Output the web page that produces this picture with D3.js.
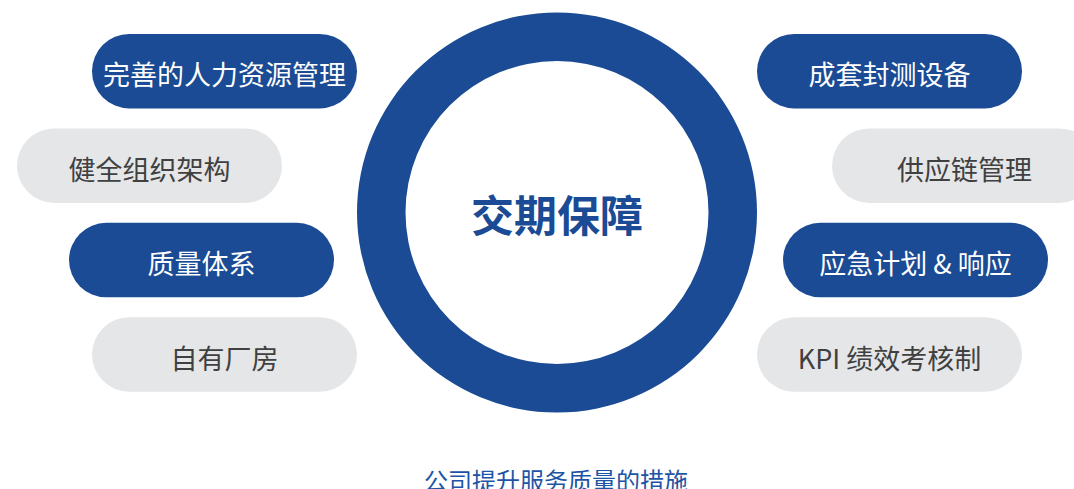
<!DOCTYPE html>
<html>
<head>
<meta charset="utf-8">
<script src="https://cdn.jsdelivr.net/npm/d3@7/dist/d3.min.js"></script>
<style>
  html, body { margin: 0; padding: 0; background: #ffffff; overflow: hidden; }
  svg { display: block; }
  text { font-family: "Noto Sans CJK SC", "Noto Sans", sans-serif; }
</style>
</head>
<body>
<svg id="chart" width="1074" height="489"></svg>
<script>
// ---- data ----
const centerTitle = "交期保障";
const caption = "公司提升服务质量的措施";
const leftItems = ["完善的人力资源管理", "健全组织架构", "质量体系", "自有厂房"];
const rightItems = ["成套封测设备", "供应链管理", "应急计划 & 响应", "KPI 绩效考核制"];
const leftKinds = ["primary", "secondary", "primary", "secondary"];
const rightKinds = ["primary", "secondary", "primary", "secondary"];

// ---- layout ----
const W = 1074, H = 489;
const cx = 557, cy = 212.5;
const outerR = 200, innerR = 151.5;
const pillW = 265, pillH = 74.5;
const gapLeft = [200, 275, 223, 200];   // distance from centre to pill inner edge
const gapRight = [200, 275, 226, 200];

const blue = "#1a4b94";
const grey = "#e5e6e8";
const greyText = "#404040";

const svg = d3.select("#chart");

const rowY = d3.scalePoint().domain(d3.range(leftItems.length)).range([71.2, 354.5]);

// ring
const arc = d3.arc().innerRadius(innerR).outerRadius(outerR).startAngle(0).endAngle(2 * Math.PI);
svg.append("path")
  .attr("d", arc())
  .attr("transform", `translate(${cx},${cy})`)
  .attr("fill", blue);

svg.append("text")
  .attr("x", cx)
  .attr("y", cy)
  .attr("text-anchor", "middle")
  .attr("dominant-baseline", "central")
  .attr("font-size", 43)
  .attr("font-weight", 700)
  .attr("fill", blue)
  .text(centerTitle);

function drawSide(items, kinds, gaps, side) {
  const g = svg.append("g");
  const nodes = g.selectAll("g.pill")
    .data(items.map((d, i) => ({ label: d, kind: kinds[i], gap: gaps[i], i })))
    .join("g")
    .attr("class", "pill")
    .attr("transform", d => {
      const x = side === "left" ? cx - d.gap - pillW : cx + d.gap;
      return `translate(${x},${rowY(d.i) - pillH / 2})`;
    });
  nodes.append("rect")
    .attr("width", pillW)
    .attr("height", pillH)
    .attr("rx", pillH / 2)
    .attr("ry", pillH / 2)
    .attr("fill", d => d.kind === "primary" ? blue : grey);
  nodes.append("text")
    .attr("x", pillW / 2)
    .attr("y", pillH / 2 + 2.5)
    .attr("text-anchor", "middle")
    .attr("dominant-baseline", "central")
    .attr("font-size", 27)
    .attr("fill", d => d.kind === "primary" ? "#ffffff" : greyText)
    .text(d => d.label);
}
drawSide(leftItems, leftKinds, gapLeft, "left");
drawSide(rightItems, rightKinds, gapRight, "right");

svg.append("text")
  .attr("x", 556)
  .attr("y", 490)
  .attr("text-anchor", "middle")
  .attr("font-size", 24)
  .attr("fill", "#1e54a6")
  .text(caption);
</script>
</body>
</html>
